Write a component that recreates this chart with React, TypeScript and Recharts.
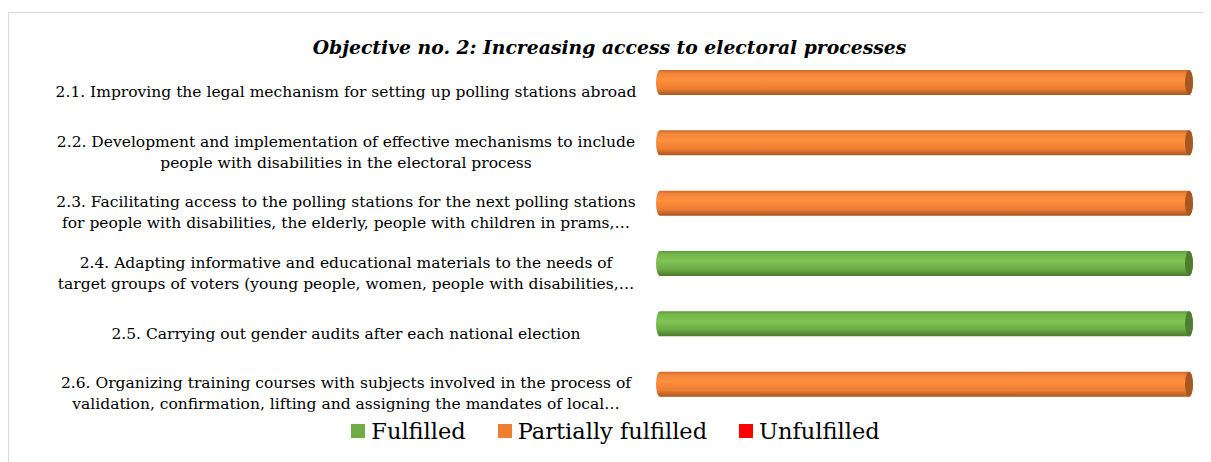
import { BarChart, Bar, XAxis, YAxis, Legend } from "recharts";

const categories = [
  "2.1. Improving the legal mechanism for setting up polling stations abroad",
  "2.2. Development and implementation of effective mechanisms to include\npeople with disabilities in the electoral process",
  "2.3. Facilitating access to the polling stations for the next polling stations\nfor people with disabilities, the elderly, people with children in prams,…",
  "2.4. Adapting informative and educational materials to the needs of\ntarget groups of voters (young people, women, people with disabilities,…",
  "2.5. Carrying out gender audits after each national election",
  "2.6. Organizing training courses with subjects involved in the process of\nvalidation, confirmation, lifting and assigning the mandates of local…",
];
const fulfilled = [0, 0, 0, 1, 1, 0];
const partially = [1, 1, 1, 0, 0, 1];
const unfulfilled = [0, 0, 0, 0, 0, 0];

const data = categories.map((name, i) => ({
  name,
  fulfilled: fulfilled[i],
  partially: partially[i],
  unfulfilled: unfulfilled[i],
}));

const FONT = "'DejaVu Serif', serif";
const LABEL_CX = 337;

const CategoryTick = (props: any) => {
  const { y, payload } = props;
  const lines = String(payload.value).split("\n");
  const lh = 21;
  const top = y + 10 - ((lines.length - 1) * lh) / 2;
  return (
    <g>
      {lines.map((l, i) => (
        <text
          key={i}
          x={LABEL_CX}
          y={top + i * lh}
          textAnchor="middle"
          dominantBaseline="central"
          fontFamily={FONT}
          fontSize={15.5}
          fill="#000"
        >
          {l}
        </text>
      ))}
    </g>
  );
};

// 3D-ish cylinder: rounded left end, darker elliptical cap on the right
const Cylinder = (props: any) => {
  const { x, y, width, height, grad, cap } = props;
  if (!width || width <= 0) return null;
  const rx = 4;
  const ry = height / 2;
  const x2 = x + width - rx;
  const d = `M${x + rx},${y} L${x2},${y} A${rx},${ry} 0 0 1 ${x2},${y + height} L${x + rx},${y + height} A${rx},${ry} 0 0 1 ${x + rx},${y} Z`;
  return (
    <g>
      <path d={d} fill={`url(#${grad})`} />
      <ellipse cx={x2} cy={y + ry} rx={rx} ry={ry} fill={cap} />
    </g>
  );
};

const legendItems = [
  { label: "Fulfilled", color: "#70AD47" },
  { label: "Partially fulfilled", color: "#ED7D31" },
  { label: "Unfulfilled", color: "#FF0000" },
];

const LegendContent = () => (
  <div
    style={{
      height: 33,
      display: "flex",
      justifyContent: "center",
      alignItems: "center",
      fontFamily: FONT,
      fontSize: 22.5,
      color: "#000",
      paddingLeft: 29,
    }}
  >
    {legendItems.map((it, i) => (
      <div
        key={it.label}
        style={{ display: "flex", alignItems: "center", marginRight: i < legendItems.length - 1 ? 32 : 0 }}
      >
        <span style={{ width: 14, height: 14, background: it.color, marginRight: 6, display: "inline-block" }} />
        <span>{it.label}</span>
      </div>
    ))}
  </div>
);

export default function App() {
  return (
    <div
      style={{
        position: "relative",
        marginTop: 4,
        width: 1210,
        height: 470,
        border: "1px solid #D9D9D9",
        boxSizing: "border-box",
        background: "#fff",
      }}
    >
      <div
        style={{
          position: "absolute",
          top: 23,
          left: 0,
          width: 1201,
          textAlign: "center",
          fontFamily: FONT,
          fontSize: 18.8,
          fontWeight: "bold",
          fontStyle: "italic",
          color: "#000",
        }}
      >
        Objective no. 2: Increasing access to electoral processes
      </div>
      <BarChart
        layout="vertical"
        width={1199}
        height={450}
        data={data}
        margin={{ top: 39, right: 15, bottom: 16, left: 0 }}
        barSize={25}
      >
        <defs>
          <linearGradient id="gOrange" x1="0" y1="0" x2="0" y2="1">
            <stop offset="0%" stopColor="#C9682B" />
            <stop offset="12%" stopColor="#F0853A" />
            <stop offset="40%" stopColor="#FF8F3D" />
            <stop offset="75%" stopColor="#EC7D32" />
            <stop offset="100%" stopColor="#A8561F" />
          </linearGradient>
          <linearGradient id="gGreen" x1="0" y1="0" x2="0" y2="1">
            <stop offset="0%" stopColor="#5F9A3B" />
            <stop offset="12%" stopColor="#74B64A" />
            <stop offset="40%" stopColor="#80C455" />
            <stop offset="75%" stopColor="#6BA944" />
            <stop offset="100%" stopColor="#4A7A2D" />
          </linearGradient>
        </defs>
        <XAxis type="number" domain={[0, 1]} hide />
        <YAxis
          type="category"
          dataKey="name"
          width={647}
          axisLine={false}
          tickLine={false}
          tick={<CategoryTick />}
          interval={0}
        />
        <Legend verticalAlign="bottom" content={<LegendContent />} />
        <Bar
          dataKey="fulfilled"
          name="Fulfilled"
          stackId="a"
          fill="#70AD47"
          isAnimationActive={false}
          shape={(p: any) => <Cylinder {...p} grad="gGreen" cap="#4E7D2F" />}
        />
        <Bar
          dataKey="partially"
          name="Partially fulfilled"
          stackId="a"
          fill="#ED7D31"
          isAnimationActive={false}
          shape={(p: any) => <Cylinder {...p} grad="gOrange" cap="#A65820" />}
        />
        <Bar
          dataKey="unfulfilled"
          name="Unfulfilled"
          stackId="a"
          fill="#FF0000"
          isAnimationActive={false}
          shape={(p: any) => <Cylinder {...p} grad="gOrange" cap="#A00000" />}
        />
      </BarChart>
    </div>
  );
}
